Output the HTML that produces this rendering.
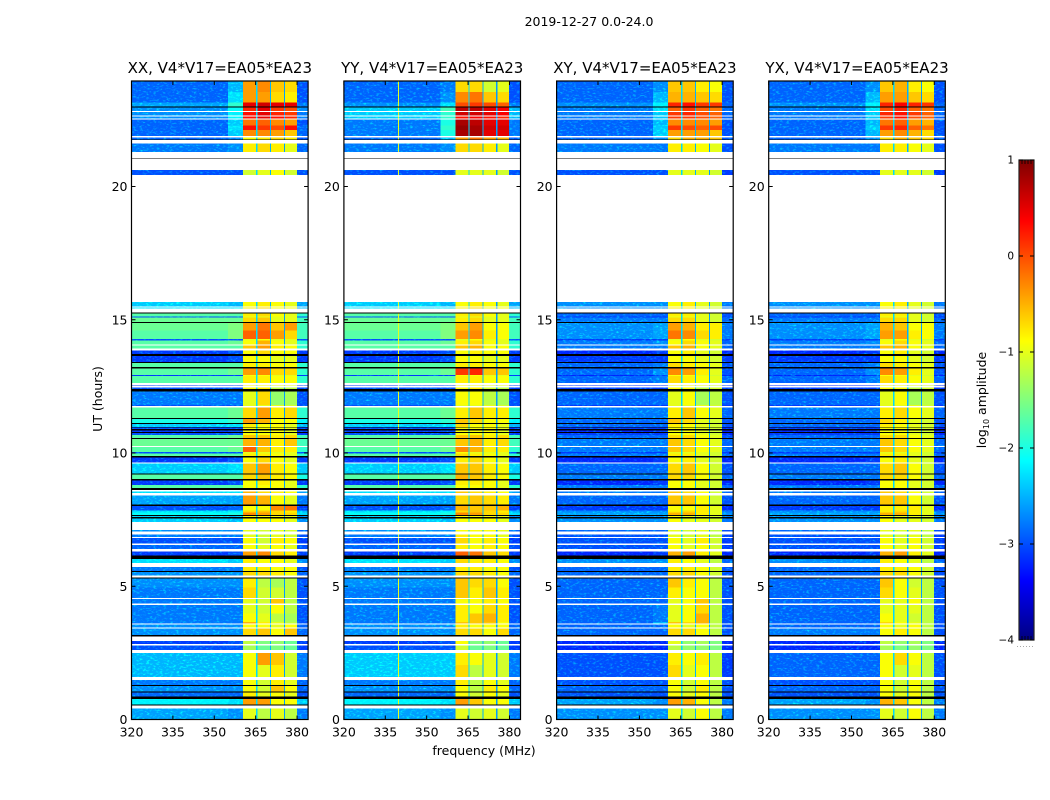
<!DOCTYPE html>
<html lang="en">
<head>
<meta charset="utf-8">
<title>2019-12-27 amplitude waterfall</title>
<style>
html,body{margin:0;padding:0;background:#fff;width:1050px;height:800px;overflow:hidden}
svg{display:block}
text{font-family:"DejaVu Sans","Liberation Sans",sans-serif;fill:#000}
</style>
</head>
<body>
<svg id="chart" xmlns="http://www.w3.org/2000/svg" width="1050" height="800" viewBox="0 0 1050 800">
<defs>
<filter id="grain" filterUnits="userSpaceOnUse" x="0" y="0" width="1050" height="800" color-interpolation-filters="sRGB">
<feTurbulence type="fractalNoise" baseFrequency="0.3 0.6" numOctaves="2" seed="7" result="n"/>
<feColorMatrix in="n" type="matrix" values="0 0 0 0 0  2.4 0 0 0 -1.25  0 0 0 0 0  0 0 0 0 1" result="g"/>
<feComposite in="SourceGraphic" in2="g" operator="arithmetic" k1="0" k2="1" k3="0.5" k4="0" result="sum"/>
<feComposite in="sum" in2="SourceAlpha" operator="in"/>
</filter>
</defs>
<rect width="1050" height="800" fill="#fff"/>
<text x="589" y="26" font-size="12.5" text-anchor="middle">2019-12-27 0.0-24.0</text>
<text x="484" y="755" font-size="12.5" text-anchor="middle">frequency (MHz)</text>
<text transform="translate(102,399) rotate(-90)" font-size="12.5" text-anchor="middle">UT (hours)</text>
<text transform="translate(986,400) rotate(-90)" font-size="12.5" text-anchor="middle">log<tspan font-size="8" dy="3">10</tspan><tspan dy="-3"> amplitude</tspan></text>
<g id="panels"></g>
<g id="colorbar"></g>
</svg>
<script>
// Frequency channel groups (MHz): background, roll-off, four sub-bands, upper edge
const channelBands = [[320,355],[355,360.4],[360.4,365.1],[365.6,370.2],[370.6,375.2],[375.6,379.9],[379.9,384]];
// Gaps between spectral windows (MHz) and their log10 amplitude
const gapBands = [[365.1,365.6],[370.2,370.6],[375.2,375.6]];
const gapLevels = [-2.3,-2.5,-2.6];
// Narrow interference line in YY (MHz) and level
const yyLineBand = [339.6,340.0];
const yyLineLevel = -1.0;
// Tick labels
const freqTicks = [320,335,350,365,380];
const timeTicks = [0,5,10,15,20];
const colorTicks = [1,0,-1,-2,-3,-4];
const panelTitles = ["XX, V4*V17=EA05*EA23","YY, V4*V17=EA05*EA23","XY, V4*V17=EA05*EA23","YX, V4*V17=EA05*EA23"];
// Row upper edges in UT hours, ascending from 0
const rowTops = [0.42,0.52,0.56,0.77,0.86,1.01,1.05,1.26,1.29,1.48,1.59,2.05,2.50,2.61,2.78,2.83,2.95,3.11,3.17,3.42,3.46,3.56,3.60,3.66,3.98,4.30,4.35,4.52,4.56,4.95,5.29,5.33,5.41,5.54,5.58,5.73,5.87,6.03,6.15,6.30,6.40,6.55,6.60,6.81,6.84,6.94,7.05,7.11,7.42,7.55,7.60,7.64,7.68,7.77,7.85,8.01,8.06,8.41,8.50,8.56,8.62,8.68,8.79,8.97,9.02,9.19,9.23,9.60,9.64,9.83,9.88,9.99,10.03,10.22,10.27,10.53,10.56,10.67,10.75,10.79,10.85,10.90,10.95,10.98,11.09,11.13,11.28,11.32,11.70,11.77,11.81,12.31,12.40,12.45,12.53,12.56,12.62,12.88,12.93,13.18,13.22,13.38,13.42,13.64,13.71,13.85,13.92,14.03,14.07,14.22,14.27,14.60,14.87,14.92,15.08,15.13,15.23,15.28,15.42,15.46,15.50,15.67,20.43,20.62,21.03,21.06,21.30,21.62,21.74,21.77,21.83,21.89,22.12,22.28,22.52,22.55,22.62,22.67,22.80,22.84,22.96,23.00,23.15,23.55,23.96];
// d = data, w = flagged (blank), k = zero amplitude (black)
const rowKinds = "dwkdkdkdkdwddwdwdwkdwdwdddwdwddkwdkdwdkdwdwdwdwdwdkdkddd"+"kdwdwkddkdkdwdkdddwdkddkdkdkdkdkdwddk"+"dwdwdddk"+"dkdkdwdwddddkddd"+"kwdwdwdwkwdwkdwdddwdwdwdkddd";
// Log10 amplitude per data row (bottom to top); columns follow channelBands
const valuesXX = [
[-2.6,-2.7,-1.0,-1.2,-1.0,-1.2,-2.8],[-2.2,-2.3,-0.4,-0.4,-0.9,-0.9,-2.4],[-2.9,-2.9,-0.8,-1.0,-0.9,-1.0,-3.0],[-2.7,-2.7,-0.9,-1.1,-0.6,-0.9,-2.9],[-2.8,-2.8,-0.9,-1.1,-0.8,-1.0,-2.9],
[-2.5,-2.5,-0.9,-1.0,-0.8,-1.1,-2.8],[-2.5,-2.5,-0.9,-0.4,-0.6,-1.1,-2.8],[-3.0,-3.0,-1.3,-1.6,-1.5,-1.6,-3.1],[-3.1,-3.0,-1.2,-1.5,-1.4,-1.6,-3.1],[-2.7,-2.7,-0.7,-0.6,-0.9,-0.6,-2.9],
[-2.7,-2.7,-0.9,-0.9,-1.0,-0.9,-2.9],[-2.8,-2.8,-0.5,-0.8,-1.0,-1.2,-3.0],[-2.8,-2.8,-0.9,-1.0,-1.2,-1.3,-3.0],[-2.8,-2.8,-1.0,-1.1,-0.9,-1.2,-3.0],[-2.8,-2.8,-1.0,-1.1,-0.6,-1.2,-3.0],
[-2.8,-2.8,-0.7,-1.1,-1.1,-1.2,-3.0],[-2.7,-2.7,-0.8,-1.2,-1.3,-1.2,-3.0],[-2.7,-2.7,-0.7,-0.7,-0.8,-0.9,-2.9],[-2.8,-2.8,-0.8,-0.8,-0.9,-0.9,-3.0],[-2.3,-2.4,-0.8,-0.9,-0.9,-1.0,-2.7],
[-3.1,-3.0,-0.4,-0.3,-0.7,-0.8,-3.1],[-2.9,-2.9,-0.9,-1.0,-0.9,-1.0,-3.0],[-3.0,-3.0,-0.9,-1.1,-0.8,-0.9,-3.1],[-2.8,-2.8,-1.0,-1.1,-1.0,-1.1,-3.0],[-2.7,-2.7,-1.0,-1.1,-1.0,-1.1,-2.9],
[-2.4,-2.5,-0.9,-0.9,-0.9,-1.0,-2.7],[-2.4,-2.5,-0.9,-0.9,-0.9,-1.0,-2.7],[-2.1,-2.0,-0.3,-0.4,-0.7,-0.7,-2.3],[-2.3,-2.2,-0.7,-0.6,-0.7,-0.8,-2.5],[-3.0,-2.9,-0.9,-0.9,-0.3,-0.2,-3.1],
[-2.6,-2.6,-0.4,-0.5,-0.9,-1.0,-2.8],[-2.3,-2.3,-0.5,-0.7,-0.8,-0.9,-2.6],[-1.7,-1.7,-0.9,-0.9,-0.9,-1.0,-1.9],[-3.1,-3.0,-0.9,-0.8,-0.9,-1.0,-3.1],[-1.7,-1.7,-0.7,-0.6,-0.8,-0.9,-2.0],
[-2.4,-2.3,-0.6,-0.4,-0.8,-0.9,-2.4],[-3.1,-3.0,-0.9,-0.7,-0.9,-1.0,-3.1],[-1.7,-1.7,-0.8,-0.8,-0.9,-1.0,-1.9],[-3.0,-3.0,-1.0,-1.0,-1.0,-1.0,-3.0],[-1.7,-1.6,-0.1,-0.6,-0.8,-0.8,-1.9],
[-1.6,-1.6,-0.5,-0.5,-0.8,-0.6,-1.8],[-1.7,-1.6,-0.6,-0.6,-0.8,-0.7,-1.8],[-3.0,-3.0,-0.9,-0.9,-0.9,-1.0,-3.1],[-3.1,-3.0,-0.9,-0.9,-0.9,-1.0,-3.1],[-3.0,-3.0,-0.9,-0.9,-0.9,-1.0,-3.1],
[-2.4,-2.3,-0.8,-0.9,-0.9,-1.0,-2.5],[-2.0,-1.9,-0.4,-0.5,-0.9,-0.9,-2.2],[-1.7,-1.6,-0.7,-0.4,-0.8,-0.7,-1.9],[-3.0,-3.0,-1.0,-1.0,-1.0,-1.1,-3.0],[-2.8,-2.8,-1.0,-0.7,-1.4,-1.3,-3.0],
[-3.0,-3.0,-0.9,-0.8,-1.2,-1.2,-3.1],[-3.1,-3.1,-0.9,-0.9,-1.0,-1.0,-3.1],[-1.7,-1.7,-0.8,-0.8,-0.9,-0.9,-1.9],[-3.1,-3.1,-0.9,-0.9,-1.0,-1.0,-3.1],[-1.7,-1.6,-0.4,-0.3,-0.7,-0.7,-1.9],
[-1.7,-1.7,-0.8,-0.8,-0.9,-0.9,-1.9],[-3.1,-3.0,-0.9,-0.9,-1.0,-1.0,-3.1],[-3.1,-3.0,-0.9,-0.7,-0.9,-0.9,-3.1],[-1.7,-1.7,-0.6,-0.4,-0.8,-0.9,-1.9],[-1.7,-1.6,-0.9,-0.5,-0.9,-1.0,-1.9],
[-3.0,-3.0,-1.0,-0.9,-1.0,-1.0,-3.0],[-1.7,-1.5,-0.1,-0.1,-0.4,-0.7,-1.8],[-1.6,-1.5,-0.4,-0.2,-0.6,-0.4,-1.8],[-1.6,-1.6,-0.7,-0.6,-1.0,-1.0,-1.8],[-3.0,-3.0,-1.0,-1.0,-1.0,-1.0,-3.0],
[-1.7,-1.7,-0.8,-0.7,-0.9,-1.0,-1.9],[-2.3,-2.3,-0.8,-0.7,-0.9,-0.9,-2.5],[-2.4,-2.5,-0.9,-0.8,-0.9,-1.0,-2.6],[-3.0,-3.0,-1.1,-1.0,-0.9,-1.1,-3.0],[-2.8,-2.7,-0.8,-0.7,-0.8,-1.0,-2.9],
[-2.9,-2.8,-0.9,-0.8,-0.7,-0.8,-3.0],[-2.9,-2.4,-0.3,-0.3,-0.4,-0.6,-2.9],[-2.9,-2.3,0.3,0.1,0.0,0.3,-2.9],[-2.9,-2.4,-0.2,-0.1,-0.3,-0.4,-3.0],
[-2.7,-2.2,0.3,0.5,0.3,0.2,-2.8],[-2.7,-2.2,0.3,0.5,0.2,0.1,-2.8],[-2.7,-2.1,0.2,0.5,0.1,0.0,-2.7],[-2.6,-1.9,0.5,0.6,0.5,0.5,-2.8],[-2.9,-2.3,-0.4,-0.4,-0.7,-0.8,-3.0],
[-2.9,-2.5,-0.4,-0.3,-0.6,-0.7,-3.0]
];
const valuesYY = [
[-2.6,-2.7,-1.0,-1.1,-1.0,-1.1,-2.8],[-2.2,-2.3,-0.4,-0.6,-0.9,-0.9,-2.4],[-2.9,-2.9,-0.9,-1.1,-0.9,-1.0,-3.0],[-2.7,-2.7,-0.9,-1.2,-0.8,-0.9,-2.9],[-2.8,-2.8,-0.8,-1.2,-0.9,-1.0,-2.9],
[-2.4,-2.4,-0.7,-1.2,-1.0,-1.1,-2.8],[-2.4,-2.4,-0.8,-0.9,-1.0,-1.1,-2.8],[-3.0,-3.0,-1.1,-1.6,-1.5,-1.6,-3.1],[-3.1,-3.0,-0.9,-1.5,-1.4,-1.6,-3.1],[-2.7,-2.7,-0.7,-0.7,-0.9,-0.7,-2.9],
[-2.7,-2.7,-0.8,-0.9,-0.9,-0.9,-2.9],[-2.8,-2.8,-0.6,-0.6,-0.6,-0.9,-3.0],[-2.8,-2.8,-0.8,-0.6,-0.5,-0.8,-3.0],[-2.8,-2.8,-0.8,-0.9,-0.7,-0.8,-3.0],[-2.8,-2.8,-0.9,-0.9,-0.8,-0.9,-3.0],
[-2.8,-2.8,-0.6,-0.8,-0.6,-0.8,-3.0],[-2.7,-2.7,-0.6,-0.7,-0.7,-0.9,-3.0],[-2.7,-2.7,-0.7,-0.7,-0.8,-0.9,-2.9],[-2.8,-2.8,-0.8,-0.8,-0.9,-0.9,-3.0],[-2.3,-2.4,-0.7,-0.8,-0.8,-0.9,-2.7],
[-3.1,-3.0,-0.1,-0.2,-0.6,-0.7,-3.1],[-2.9,-2.9,-0.8,-0.9,-0.8,-0.9,-3.0],[-3.0,-3.0,-0.7,-0.9,-0.8,-0.9,-3.1],[-2.8,-2.8,-0.8,-0.9,-0.9,-1.0,-3.0],[-2.7,-2.7,-0.9,-0.9,-0.9,-1.0,-2.9],
[-2.4,-2.5,-0.9,-0.9,-0.9,-1.0,-2.7],[-2.4,-2.5,-0.9,-0.9,-0.9,-1.0,-2.7],[-2.1,-2.0,-0.3,-0.4,-0.7,-0.7,-2.3],[-2.3,-2.2,-0.7,-0.6,-0.7,-0.8,-2.5],[-3.0,-2.9,-0.5,-0.6,-0.6,-0.5,-3.1],
[-2.6,-2.6,-0.7,-0.6,-0.7,-0.8,-2.8],[-2.3,-2.3,-0.6,-0.7,-0.8,-0.9,-2.6],[-1.7,-1.7,-0.9,-0.9,-0.9,-1.0,-1.9],[-3.1,-3.0,-0.8,-0.8,-0.9,-1.0,-3.1],[-1.7,-1.7,-0.5,-0.6,-0.8,-0.9,-2.0],
[-2.4,-2.3,-0.6,-0.6,-0.8,-0.9,-2.4],[-3.1,-3.0,-0.8,-0.7,-0.9,-1.0,-3.1],[-1.7,-1.7,-0.7,-0.8,-0.9,-1.0,-1.9],[-3.0,-3.0,-0.9,-1.0,-1.0,-1.0,-3.0],[-1.7,-1.6,-0.3,-0.5,-0.8,-0.8,-1.9],
[-1.6,-1.6,-0.6,-0.5,-0.8,-0.7,-1.8],[-1.7,-1.6,-0.6,-0.6,-0.8,-0.7,-1.8],[-3.0,-3.0,-0.9,-0.9,-0.9,-1.0,-3.1],[-3.1,-3.0,-0.9,-0.9,-0.9,-1.0,-3.1],[-3.0,-3.0,-0.9,-0.9,-0.9,-1.0,-3.1],
[-2.4,-2.3,-0.7,-0.9,-0.9,-1.0,-2.5],[-2.0,-1.9,-0.6,-0.7,-0.9,-0.9,-2.2],[-1.7,-1.6,-0.8,-0.6,-0.8,-0.8,-1.9],[-3.0,-3.0,-1.0,-1.0,-1.0,-1.1,-3.0],[-2.8,-2.8,-0.9,-0.9,-1.2,-1.3,-3.0],
[-3.0,-3.0,-0.9,-0.8,-1.1,-1.2,-3.1],[-3.1,-3.1,-0.9,-0.9,-1.0,-1.0,-3.1],[-1.7,-1.7,-0.8,-0.8,-0.9,-0.9,-1.9],[-3.1,-3.1,-0.9,-0.9,-1.0,-1.0,-3.1],[-1.7,-1.6,0.1,0.2,-0.6,-0.6,-1.9],
[-1.7,-1.7,-0.8,-0.8,-0.9,-0.9,-1.9],[-3.1,-3.0,-0.9,-0.9,-1.0,-1.0,-3.1],[-3.1,-3.0,-0.9,-0.8,-0.9,-0.9,-3.1],[-1.7,-1.7,-0.6,-0.5,-0.9,-0.9,-1.9],[-1.7,-1.6,-0.8,-0.7,-0.9,-1.0,-1.9],
[-3.0,-3.0,-1.0,-0.9,-1.0,-1.0,-3.0],[-1.7,-1.5,-0.4,-0.3,-0.8,-0.9,-1.8],[-1.6,-1.5,-0.6,-0.4,-0.9,-0.9,-1.8],[-1.6,-1.6,-0.8,-0.7,-1.0,-1.0,-1.8],[-3.0,-3.0,-1.0,-1.0,-1.0,-1.0,-3.0],
[-1.7,-1.7,-0.8,-0.7,-0.9,-1.0,-1.9],[-2.3,-2.3,-0.8,-0.7,-0.9,-0.9,-2.5],[-2.4,-2.5,-0.9,-0.8,-0.9,-1.0,-2.6],[-3.0,-3.0,-1.0,-1.0,-1.0,-1.1,-3.0],[-2.8,-2.7,-0.7,-0.7,-0.8,-1.0,-2.9],
[-2.9,-2.5,-0.4,-0.2,-0.4,-0.5,-3.0],[-2.8,-2.0,0.8,0.8,0.5,0.5,-2.8],[-2.8,-1.9,0.9,0.8,0.6,0.6,-2.8],[-2.8,-2.0,0.8,0.7,0.5,0.5,-2.8],
[-2.4,-1.9,0.3,0.4,0.3,0.2,-2.5],[-2.4,-1.9,0.6,0.6,0.5,0.4,-2.5],[-2.4,-1.8,0.7,0.7,0.5,0.4,-2.5],[-2.7,-2.3,0.0,0.1,0.0,-0.1,-2.8],[-2.9,-2.7,-0.3,-0.2,-0.6,-0.7,-3.0],
[-2.9,-2.8,-0.7,-0.7,-1.1,-1.0,-3.0]
];
const valuesXY = [
[-2.7,-2.7,-1.0,-1.1,-0.9,-1.2,-2.8],[-2.6,-2.7,-0.4,-0.5,-0.9,-1.2,-2.8],[-3.0,-3.0,-0.9,-1.0,-0.9,-1.2,-3.0],[-2.9,-2.9,-0.9,-1.1,-0.8,-1.2,-3.0],[-3.0,-3.0,-0.9,-1.1,-0.9,-1.2,-3.0],
[-3.0,-3.0,-0.7,-1.0,-0.9,-1.2,-3.1],[-3.0,-3.0,-0.8,-0.9,-0.8,-1.2,-3.1],[-3.2,-3.2,-1.2,-1.4,-1.4,-1.5,-3.2],[-3.2,-3.2,-1.0,-1.4,-1.3,-1.5,-3.2],[-2.9,-2.9,-0.7,-0.7,-0.9,-1.2,-3.0],
[-2.9,-2.9,-0.9,-1.0,-0.9,-1.2,-3.0],[-2.9,-2.5,-0.6,-0.7,-0.5,-1.2,-3.0],[-2.9,-2.8,-1.0,-0.9,-0.5,-1.2,-3.0],[-2.9,-2.8,-1.0,-0.9,-0.7,-1.2,-3.0],[-2.9,-2.9,-1.0,-0.9,-0.6,-1.2,-3.0],
[-2.9,-2.9,-0.8,-0.9,-0.9,-1.2,-3.0],[-2.9,-2.9,-0.6,-0.8,-0.9,-1.2,-3.0],[-2.9,-2.9,-0.7,-0.7,-0.9,-1.1,-3.0],[-2.9,-2.9,-0.8,-0.8,-0.9,-1.1,-3.0],[-2.7,-2.7,-0.8,-0.9,-1.0,-1.2,-2.9],
[-3.2,-3.1,-0.5,-0.4,-0.8,-1.0,-3.2],[-3.0,-3.0,-0.9,-1.0,-0.9,-1.1,-3.1],[-3.0,-3.0,-0.9,-1.0,-0.8,-1.1,-3.1],[-3.0,-3.0,-1.0,-1.1,-1.0,-1.2,-3.1],[-2.9,-2.9,-1.0,-1.1,-1.0,-1.2,-3.0],
[-2.7,-2.7,-0.9,-1.0,-1.0,-1.1,-2.8],[-2.7,-2.7,-0.9,-1.0,-1.0,-1.1,-2.8],[-2.6,-2.6,-0.5,-0.5,-0.8,-1.0,-2.7],[-2.7,-2.7,-0.8,-0.7,-0.8,-1.0,-2.8],[-3.1,-3.1,-0.9,-0.9,-0.8,-1.0,-3.2],
[-2.9,-2.9,-0.6,-0.6,-0.9,-1.1,-3.0],[-2.8,-2.8,-0.6,-0.7,-0.9,-1.1,-2.9],[-2.8,-2.8,-0.9,-0.9,-1.0,-1.1,-2.9],[-3.2,-3.1,-0.9,-0.9,-1.0,-1.1,-3.2],[-2.8,-2.8,-0.7,-0.7,-0.9,-1.1,-2.9],
[-2.9,-2.9,-0.7,-0.6,-0.9,-1.1,-3.0],[-3.2,-3.1,-0.9,-0.8,-1.0,-1.1,-3.2],[-2.8,-2.8,-0.8,-0.8,-1.0,-1.1,-2.9],[-3.1,-3.1,-1.0,-1.0,-1.0,-1.1,-3.1],[-2.8,-2.8,-0.6,-0.7,-0.9,-1.0,-2.9],
[-2.8,-2.8,-0.6,-0.7,-0.9,-1.0,-2.9],[-2.9,-2.9,-0.7,-0.7,-0.9,-1.0,-3.0],[-3.1,-3.1,-0.9,-0.9,-1.0,-1.1,-3.2],[-3.2,-3.1,-0.9,-0.9,-1.0,-1.1,-3.2],[-3.1,-3.1,-0.9,-0.9,-1.0,-1.1,-3.2],
[-2.9,-2.9,-0.8,-0.9,-1.0,-1.1,-3.0],[-2.9,-2.9,-0.6,-0.7,-1.0,-1.1,-3.0],[-2.8,-2.8,-0.8,-0.6,-0.9,-1.0,-2.9],[-3.1,-3.1,-1.0,-1.0,-1.0,-1.1,-3.1],[-2.9,-2.9,-1.0,-0.9,-1.3,-1.2,-3.0],
[-3.1,-3.1,-0.9,-0.9,-1.2,-1.1,-3.1],[-3.2,-3.2,-0.9,-0.9,-1.0,-1.1,-3.2],[-2.9,-2.8,-0.7,-0.8,-0.9,-1.0,-2.9],[-3.2,-3.1,-0.9,-0.9,-1.0,-1.1,-3.2],[-2.9,-2.7,-0.3,-0.4,-0.8,-1.0,-3.0],
[-2.9,-2.8,-0.7,-0.8,-0.9,-1.0,-3.0],[-3.1,-3.1,-0.9,-0.9,-1.0,-1.1,-3.1],[-3.2,-3.1,-0.9,-0.8,-1.0,-1.1,-3.2],[-2.8,-2.8,-0.6,-0.5,-0.9,-1.0,-2.9],[-2.8,-2.7,-0.9,-0.7,-0.9,-1.0,-2.9],
[-3.1,-3.1,-1.0,-0.9,-1.0,-1.1,-3.1],[-2.7,-2.6,-0.2,-0.3,-0.7,-0.8,-2.8],[-2.7,-2.6,-0.4,-0.5,-0.8,-0.8,-2.8],[-2.8,-2.8,-0.7,-0.7,-1.0,-1.1,-2.9],[-3.1,-3.1,-1.0,-1.0,-1.0,-1.1,-3.1],
[-2.9,-2.9,-0.8,-0.8,-1.0,-1.1,-3.0],[-2.7,-2.7,-0.8,-0.8,-1.0,-1.1,-2.8],[-2.7,-2.7,-0.9,-0.8,-1.0,-1.1,-2.8],[-3.0,-3.0,-1.0,-1.0,-1.0,-1.1,-3.1],[-2.8,-2.8,-0.8,-0.8,-0.9,-1.0,-3.0],
[-2.9,-2.7,-0.7,-0.5,-0.5,-0.6,-3.0],[-2.9,-2.4,-0.4,-0.4,-0.4,-0.6,-3.0],[-2.9,-2.4,0.1,0.0,-0.1,0.0,-3.0],[-2.9,-2.5,-0.3,-0.3,-0.3,-0.4,-3.0],
[-2.8,-2.4,0.1,0.1,0.0,-0.1,-2.9],[-2.8,-2.4,0.1,0.2,0.0,-0.1,-2.9],[-2.8,-2.3,-0.1,0.1,-0.1,-0.2,-2.9],[-2.7,-2.2,0.2,0.3,0.1,0.1,-2.9],[-2.9,-2.5,-0.5,-0.5,-0.6,-0.7,-3.0],
[-2.9,-2.7,-0.6,-0.6,-0.8,-0.9,-3.0]
];
const valuesYX = [
[-2.7,-2.7,-1.0,-1.1,-0.9,-1.2,-2.8],[-2.6,-2.7,-0.5,-0.6,-0.9,-1.2,-2.8],[-3.0,-3.0,-0.9,-1.0,-0.9,-1.2,-3.0],[-2.9,-2.9,-0.9,-1.1,-0.9,-1.2,-3.0],[-3.0,-3.0,-0.9,-1.1,-0.9,-1.2,-3.0],
[-2.9,-2.9,-0.9,-1.1,-1.0,-1.2,-3.0],[-2.9,-2.9,-0.9,-0.7,-0.9,-1.2,-3.0],[-3.2,-3.2,-1.3,-1.5,-1.4,-1.5,-3.2],[-3.2,-3.2,-1.2,-1.4,-1.3,-1.5,-3.2],[-2.8,-2.8,-0.9,-0.8,-0.9,-1.2,-3.0],
[-2.9,-2.9,-0.9,-1.0,-0.9,-1.2,-3.0],[-2.9,-2.9,-0.7,-0.9,-1.0,-1.2,-3.0],[-2.9,-2.9,-0.9,-1.0,-1.1,-1.2,-3.0],[-2.9,-2.9,-1.0,-1.0,-1.0,-1.2,-3.0],[-2.9,-2.9,-1.0,-1.0,-0.9,-1.2,-3.0],
[-2.9,-2.9,-0.7,-0.9,-1.0,-1.2,-3.0],[-2.9,-2.9,-0.6,-0.9,-1.1,-1.2,-3.0],[-2.9,-2.9,-0.7,-0.7,-0.9,-1.1,-3.0],[-2.9,-2.9,-0.8,-0.8,-0.9,-1.1,-3.0],[-2.7,-2.7,-0.8,-0.9,-1.0,-1.2,-2.9],
[-3.2,-3.1,-0.5,-0.4,-0.8,-1.0,-3.2],[-3.0,-3.0,-0.9,-1.0,-0.9,-1.1,-3.1],[-3.0,-3.0,-0.9,-1.0,-0.9,-1.1,-3.1],[-3.0,-3.0,-1.0,-1.1,-1.0,-1.2,-3.1],[-2.9,-2.9,-1.0,-1.1,-1.0,-1.2,-3.0],
[-2.7,-2.7,-0.9,-1.0,-1.0,-1.1,-2.8],[-2.7,-2.7,-0.9,-1.0,-1.0,-1.1,-2.8],[-2.6,-2.6,-0.5,-0.5,-0.8,-1.0,-2.7],[-2.7,-2.7,-0.8,-0.7,-0.8,-1.0,-2.8],[-3.1,-3.1,-0.8,-0.8,-0.8,-1.0,-3.2],
[-2.9,-2.9,-0.6,-0.6,-0.9,-1.1,-3.0],[-2.8,-2.8,-0.6,-0.7,-0.9,-1.1,-2.9],[-2.8,-2.8,-0.9,-0.9,-1.0,-1.1,-2.9],[-3.2,-3.1,-0.9,-0.9,-1.0,-1.1,-3.2],[-2.8,-2.8,-0.7,-0.7,-0.9,-1.1,-2.9],
[-2.9,-2.9,-0.7,-0.6,-0.9,-1.1,-3.0],[-3.2,-3.1,-0.9,-0.8,-1.0,-1.1,-3.2],[-2.8,-2.8,-0.8,-0.8,-1.0,-1.1,-2.9],[-3.1,-3.1,-1.0,-1.0,-1.0,-1.1,-3.1],[-2.8,-2.8,-0.6,-0.7,-0.9,-1.0,-2.9],
[-2.8,-2.8,-0.6,-0.7,-0.9,-1.0,-2.9],[-2.9,-2.9,-0.7,-0.7,-0.9,-1.0,-3.0],[-3.1,-3.1,-0.9,-0.9,-1.0,-1.1,-3.2],[-3.2,-3.1,-0.9,-0.9,-1.0,-1.1,-3.2],[-3.1,-3.1,-0.9,-0.9,-1.0,-1.1,-3.2],
[-2.9,-2.9,-0.8,-0.9,-1.0,-1.1,-3.0],[-2.9,-2.9,-0.7,-0.8,-1.0,-1.1,-3.0],[-2.8,-2.8,-0.8,-0.7,-0.9,-1.0,-2.9],[-3.1,-3.1,-1.0,-1.0,-1.0,-1.1,-3.1],[-2.9,-2.9,-1.0,-0.9,-1.3,-1.2,-3.0],
[-3.1,-3.1,-0.9,-0.9,-1.2,-1.1,-3.1],[-3.2,-3.2,-0.9,-0.9,-1.0,-1.1,-3.2],[-2.9,-2.8,-0.7,-0.8,-0.9,-1.0,-2.9],[-3.2,-3.1,-0.9,-0.9,-1.0,-1.1,-3.2],[-2.9,-2.7,-0.3,-0.4,-0.8,-1.0,-3.0],
[-2.9,-2.8,-0.7,-0.8,-0.9,-1.0,-3.0],[-3.1,-3.1,-0.9,-0.9,-1.0,-1.1,-3.1],[-3.2,-3.1,-0.9,-0.8,-1.0,-1.1,-3.2],[-2.8,-2.8,-0.6,-0.5,-0.9,-1.0,-2.9],[-2.8,-2.7,-0.9,-0.7,-0.9,-1.0,-2.9],
[-3.1,-3.1,-1.0,-0.9,-1.0,-1.1,-3.1],[-2.7,-2.6,-0.4,-0.4,-0.8,-0.9,-2.8],[-2.7,-2.6,-0.5,-0.6,-0.9,-0.9,-2.8],[-2.8,-2.8,-0.7,-0.7,-1.0,-1.1,-2.9],[-3.1,-3.1,-1.0,-1.0,-1.0,-1.1,-3.1],
[-2.9,-2.9,-0.8,-0.8,-1.0,-1.1,-3.0],[-2.7,-2.7,-0.8,-0.8,-1.0,-1.1,-2.8],[-2.7,-2.7,-0.9,-0.8,-1.0,-1.1,-2.8],[-3.0,-3.0,-1.0,-1.0,-1.0,-1.1,-3.1],[-2.8,-2.8,-0.8,-0.8,-0.9,-1.0,-3.0],
[-2.9,-2.7,-0.7,-0.5,-0.6,-0.7,-3.0],[-2.9,-2.5,-0.4,-0.3,-0.5,-0.7,-3.0],[-2.9,-2.4,0.1,0.2,-0.1,-0.2,-3.0],[-2.9,-2.5,-0.2,-0.1,-0.4,-0.5,-3.0],
[-2.8,-2.4,0.1,0.3,0.0,-0.1,-2.9],[-2.8,-2.4,0.2,0.3,0.1,-0.1,-2.9],[-2.8,-2.3,0.0,0.2,-0.1,-0.2,-2.9],[-2.7,-2.2,0.2,0.4,0.2,0.1,-2.9],[-2.9,-2.5,-0.4,-0.4,-0.6,-0.7,-3.0],
[-2.9,-2.7,-0.6,-0.5,-0.8,-0.9,-3.0]
];
const panelValues = [valuesXX,valuesYY,valuesXY,valuesYX];

// Layout and axis functions
const NS = "http://www.w3.org/2000/svg";
const panelLefts = [131.5,343.9,556.6,768.7];
const panelWidth = 176.6, plotTop = 81, plotBottom = 719.5;
const FMIN = 320, FMAX = 384, HPX = 26.65;
function xAxis(p,f){return panelLefts[p]+(f-FMIN)*panelWidth/(FMAX-FMIN);}
function yAxis(h){return plotBottom-h*HPX;}
function jetPart(t,c){return Math.max(0,Math.min(1,1.5-Math.abs(4*t-c)));}
function colorOf(v){
  const t=Math.max(0,Math.min(1,(v+4)/5));
  return "rgb("+Math.round(255*jetPart(t,3))+","+Math.round(255*jetPart(t,2))+","+Math.round(255*jetPart(t,1))+")";
}
function mk(parent,tag,attrs){
  const el=document.createElementNS(NS,tag);
  for(const k in attrs){el.setAttribute(k,attrs[k]);}
  parent.appendChild(el);
  return el;
}
const noisyColumns = [0,1,6];
const panelsRoot=document.getElementById("panels");
panelValues.forEach(function(matrix,p){
  const g=mk(panelsRoot,"g",{});
  
  
  const bgHeat=mk(g,"g",{"shape-rendering":"crispEdges",filter:"url(#grain)"});
  
  
  const heat=mk(g,"g",{"shape-rendering":"crispEdges"});
  
  
  function cell(parent,f0,f1,h0,h1,fill){
    const x0=xAxis(p,f0),x1=xAxis(p,f1),y1=yAxis(h1),y0=Math.min(yAxis(h0),plotBottom);
    const r=mk(parent,"rect",{x:x0,y:y1,width:Math.max(x1-x0,0.6),height:Math.max(y0-y1,0.6),fill:fill});
    
    
  }
  let low=0,d=0;
  rowTops.forEach(function(top,i){
    const kind=rowKinds.charAt(i);
    if(kind==="k"){
      cell(heat,FMIN,FMAX,low,top,"#000");
    }else if(kind==="d"){
      const row=matrix[d];
      d++;
      if(row){
        channelBands.forEach(function(b,c){cell(noisyColumns.indexOf(c)>=0?bgHeat:heat,b[0],b[1],low,top,colorOf(row[c]));});
        gapBands.forEach(function(b,c){cell(heat,b[0],b[1],low,top,colorOf(gapLevels[c]));});
        if(p===1){cell(heat,yyLineBand[0],yyLineBand[1],low,top,colorOf(yyLineLevel));}
      }
    }
    low=top;
  });
  // frame
  const frame=mk(g,"rect",{x:panelLefts[p],y:plotTop,width:panelWidth,height:plotBottom-plotTop,fill:"none",stroke:"#000","stroke-width":1.2});
  
  
  // x ticks
  freqTicks.forEach(function(f){
    const x=xAxis(p,f);
    const t=mk(g,"path",{d:"M"+x+" "+plotBottom+"v-4M"+x+" "+plotTop+"v4",stroke:"#000","stroke-width":1,fill:"none"});
    
    
    const l=mk(g,"text",{x:x,y:plotBottom+17,"font-size":12.5,"text-anchor":"middle"});
    l.textContent=String(f);
    
    
  });
  // y ticks
  timeTicks.forEach(function(h){
    const y=yAxis(h),x0=panelLefts[p],x1=x0+panelWidth;
    const t=mk(g,"path",{d:"M"+x0+" "+y+"h4M"+x1+" "+y+"h-4",stroke:"#000","stroke-width":1,fill:"none"});
    
    
    const l=mk(g,"text",{x:x0-4,y:y+4.5,"font-size":12.5,"text-anchor":"end"});
    l.textContent=String(h);
    
    
  });
  const title=mk(g,"text",{x:panelLefts[p]+panelWidth/2,y:73,"font-size":15,"text-anchor":"middle"});
  title.textContent=panelTitles[p];
  
  
});

// Colorbar
const cbRoot=document.getElementById("colorbar");
const cbLeft=1019,cbWidth=15,cbTop=160,cbBottom=640;
function cbY(v){return cbBottom-(v+4)*(cbBottom-cbTop)/5;}
const cbRamp=mk(cbRoot,"g",{"shape-rendering":"crispEdges"});


for(let i=0;i<240;i++){
  const v0=-4+i*5/240,v1=-4+(i+1)*5/240;
  const r=mk(cbRamp,"rect",{x:cbLeft,y:cbY(v1),width:cbWidth,height:cbY(v0)-cbY(v1)+0.5,fill:colorOf((v0+v1)/2)});
  
  
}
const cbFrame=mk(cbRoot,"rect",{x:cbLeft,y:cbTop,width:cbWidth,height:cbBottom-cbTop,fill:"none",stroke:"#222","stroke-width":1.2});


colorTicks.forEach(function(v){
  const y=cbY(v);
  const t=mk(cbRoot,"path",{d:"M"+cbLeft+" "+y+"h4M"+(cbLeft+cbWidth)+" "+y+"h-4",stroke:"#000","stroke-width":1,fill:"none"});
  
  
  const l=mk(cbRoot,"text",{x:cbLeft-5,y:y+3.5,"font-size":10.5,"text-anchor":"end"});
  l.textContent=(v<0?"\u2212":"")+Math.abs(v);
  
  
});
const cbMinor=mk(cbRoot,"path",{d:"M1022 160v4M1025 160v4M1028 160v4M1031 160v4M1022 640v-4M1025 640v-4M1028 640v-4M1031 640v-4",stroke:"#000","stroke-width":0.8,fill:"none"});


const cbDots=mk(cbRoot,"path",{d:"M1017 646.5h18",stroke:"#aaa","stroke-width":1,"stroke-dasharray":"1 2",fill:"none"});


</script>
</body>
</html>
